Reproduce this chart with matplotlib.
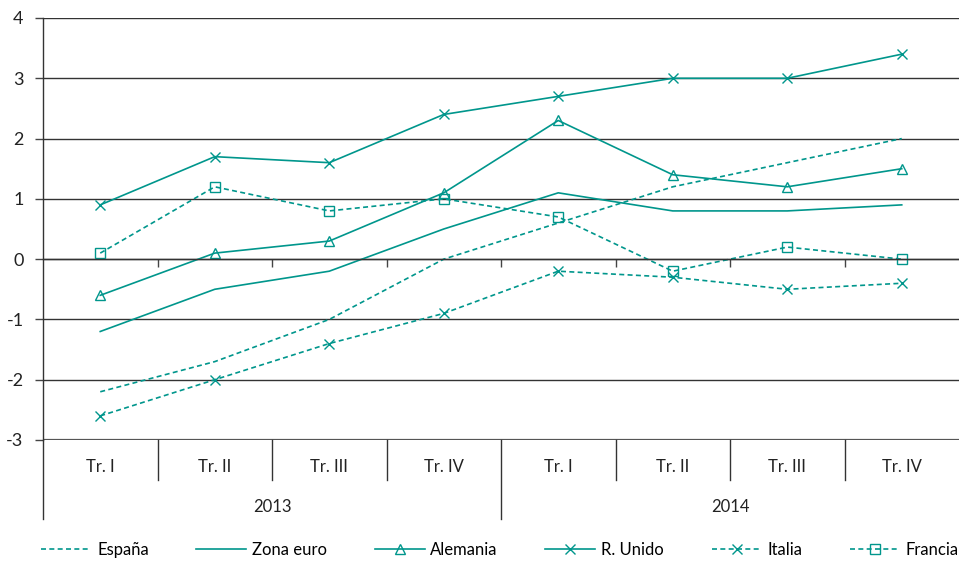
import matplotlib
matplotlib.use("Agg")
import matplotlib.pyplot as plt
from matplotlib.lines import Line2D
import matplotlib.transforms as mtransforms

plt.rcParams['font.family'] = ['Lato', 'DejaVu Sans']

quarters = ["Tr. I", "Tr. II", "Tr. III", "Tr. IV", "Tr. I", "Tr. II", "Tr. III", "Tr. IV"]
years = ["2013", "2014"]

espana = [-2.2, -1.7, -1.0, 0.0, 0.6, 1.2, 1.6, 2.0]
zona_euro = [-1.2, -0.5, -0.2, 0.5, 1.1, 0.8, 0.8, 0.9]
alemania = [-0.6, 0.1, 0.3, 1.1, 2.3, 1.4, 1.2, 1.5]
r_unido = [0.9, 1.7, 1.6, 2.4, 2.7, 3.0, 3.0, 3.4]
italia = [-2.6, -2.0, -1.4, -0.9, -0.2, -0.3, -0.5, -0.4]
francia = [0.1, 1.2, 0.8, 1.0, 0.7, -0.2, 0.2, 0.0]

C = "#00968C"
FS = 12
W, H = 959, 561
fig = plt.figure(figsize=(W / 100, H / 100), dpi=100)
L, R, T, B = 43, 959, 18, 440
ax = fig.add_axes([L / W, 1 - B / H, (R - L) / W, (B - T) / H])

x = list(range(len(quarters)))
dash = (0, (3, 2))
lw = 1.2
ms = 7
ax.plot(x, espana, color=C, lw=lw, ls=dash, label="España")
ax.plot(x, zona_euro, color=C, lw=lw, ls="-", label="Zona euro")
ax.plot(x, alemania, color=C, lw=lw, ls="-", marker="^", ms=ms, mfc="none", mec=C, label="Alemania")
ax.plot(x, r_unido, color=C, lw=lw, ls="-", marker="x", ms=ms, mec=C, label="R. Unido")
ax.plot(x, italia, color=C, lw=lw, ls=dash, marker="x", ms=ms, mec=C, label="Italia")
ax.plot(x, francia, color=C, lw=lw, ls=dash, marker="s", ms=ms, mfc="none", mec=C, label="Francia")

ax.set_xlim(-0.5, 7.5)
ax.set_ylim(-3, 4)
ax.set_yticks(range(-3, 5))
ax.set_yticklabels([str(v) for v in range(-3, 5)], fontsize=FS + 1, color="#222222")
for v in range(-3, 5):
    ax.axhline(v, color="#333333" if v != -3 else "#555555", lw=1.0 if v != -3 else 1.6, zorder=0)

for s in ["top", "right"]:
    ax.spines[s].set_visible(False)
ax.spines["left"].set_color("#333333")
ax.spines["left"].set_linewidth(1.0)
ax.spines["bottom"].set_position(("data", 0))
ax.spines["bottom"].set_color("#333333")
ax.spines["bottom"].set_linewidth(1.0)
ax.set_xticks([i + 0.5 for i in range(7)])
ax.set_xticklabels([])
ax.tick_params(axis="x", direction="out", length=6, color="#444444", width=1.0)
ax.tick_params(axis="y", direction="out", length=6, color="#444444", width=1.0, pad=8)

trans = mtransforms.blended_transform_factory(ax.transData, ax.transAxes)
h = B - T
for b in [0.5, 1.5, 2.5, 4.5, 5.5, 6.5]:
    ax.add_line(Line2D([b, b], [0, -40 / h], transform=trans, color="#333333", lw=1.0, clip_on=False))
for b in [-0.5, 3.5]:
    ax.add_line(Line2D([b, b], [0, -79 / h], transform=trans, color="#333333", lw=1.0, clip_on=False))
for i, q in enumerate(quarters):
    ax.text(i, -27 / h, q, transform=trans, ha="center", va="center", fontsize=FS, color="#222222")
for j, y in enumerate(years):
    ax.text(1.5 + 4 * j, -67 / h, y, transform=trans, ha="center", va="center", fontsize=FS, color="#222222")

fig.legend(loc="center", bbox_to_anchor=(500 / W, 11 / H), ncol=6, frameon=False, fontsize=FS,
           handlelength=3.0, columnspacing=2.85, handletextpad=0.35, borderaxespad=0)

fig.savefig("out.png", dpi=100)
